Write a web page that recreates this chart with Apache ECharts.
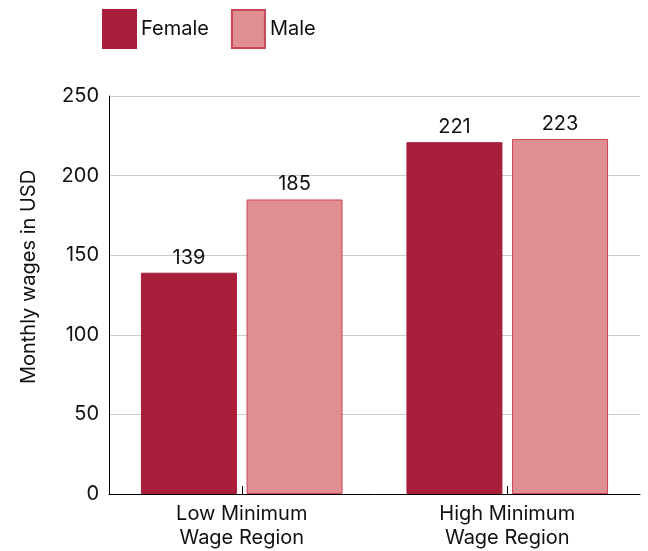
<!DOCTYPE html>
<html>
<head>
<meta charset="utf-8">
<script src="https://cdn.jsdelivr.net/npm/echarts@6/dist/echarts.min.js"></script>
<style>html,body{margin:0;padding:0;background:#fff}#c{width:648px;height:551px}</style>
</head>
<body>
<div id="c"></div>
<script>
var categories = ['Low Minimum\nWage Region', 'High Minimum\nWage Region'];
var seriesNames = ['Female', 'Male'];
var femaleValues = [139, 221];
var maleValues = [185, 223];
var yTicks = [0, 50, 100, 150, 200, 250];

var chart = echarts.init(document.getElementById('c'), null, {renderer: 'canvas'});
var font = 'Inter, "Noto Sans", sans-serif';
var txt = '#111';
chart.setOption({
  animation: false,
  textStyle: {fontFamily: font},
  legend: {
    left: 102, top: 9, padding: 0,
    icon: 'rect',
    itemWidth: 33, itemHeight: 38, itemGap: 22,
    textStyle: {fontSize: 20, color: txt, fontFamily: font},
    data: seriesNames
  },
  grid: {left: 109, right: 8, top: 96, bottom: 57},
  xAxis: {
    type: 'category',
    data: categories,
    axisLine: {lineStyle: {color: '#000', width: 1}},
    axisTick: {show: true, inside: true, length: 8, alignWithLabel: true, lineStyle: {color: '#000'}},
    axisLabel: {fontSize: 20, color: txt, lineHeight: 24, margin: 8, fontFamily: font}
  },
  yAxis: {
    type: 'value',
    min: yTicks[0], max: yTicks[yTicks.length - 1], interval: 50,
    name: 'Monthly wages in USD',
    nameLocation: 'middle', nameGap: 70, nameRotate: 90,
    nameTextStyle: {fontSize: 20, color: txt, fontFamily: font, padding: [0, 0, 0, 36]},
    axisLine: {show: true, lineStyle: {color: '#000', width: 1}},
    axisTick: {show: false},
    splitLine: {lineStyle: {color: '#cccccc', width: 1}},
    axisLabel: {fontSize: 20, color: txt, margin: 10, fontFamily: font}
  },
  series: [
    {
      name: seriesNames[0], type: 'bar', data: femaleValues,
      barWidth: 96, barGap: '10%',
      itemStyle: {color: '#a91e3b', borderColor: '#a91e3b', borderWidth: 1},
      label: {show: true, position: 'top', distance: 5, fontSize: 20, color: txt, fontFamily: font}
    },
    {
      name: seriesNames[1], type: 'bar', data: maleValues,
      barWidth: 96, barGap: '10%',
      itemStyle: {color: '#e08e92', borderColor: '#c8475a', borderWidth: 1},
      label: {show: true, position: 'top', distance: 5, fontSize: 20, color: txt, fontFamily: font}
    }
  ]
});
</script>
</body>
</html>
